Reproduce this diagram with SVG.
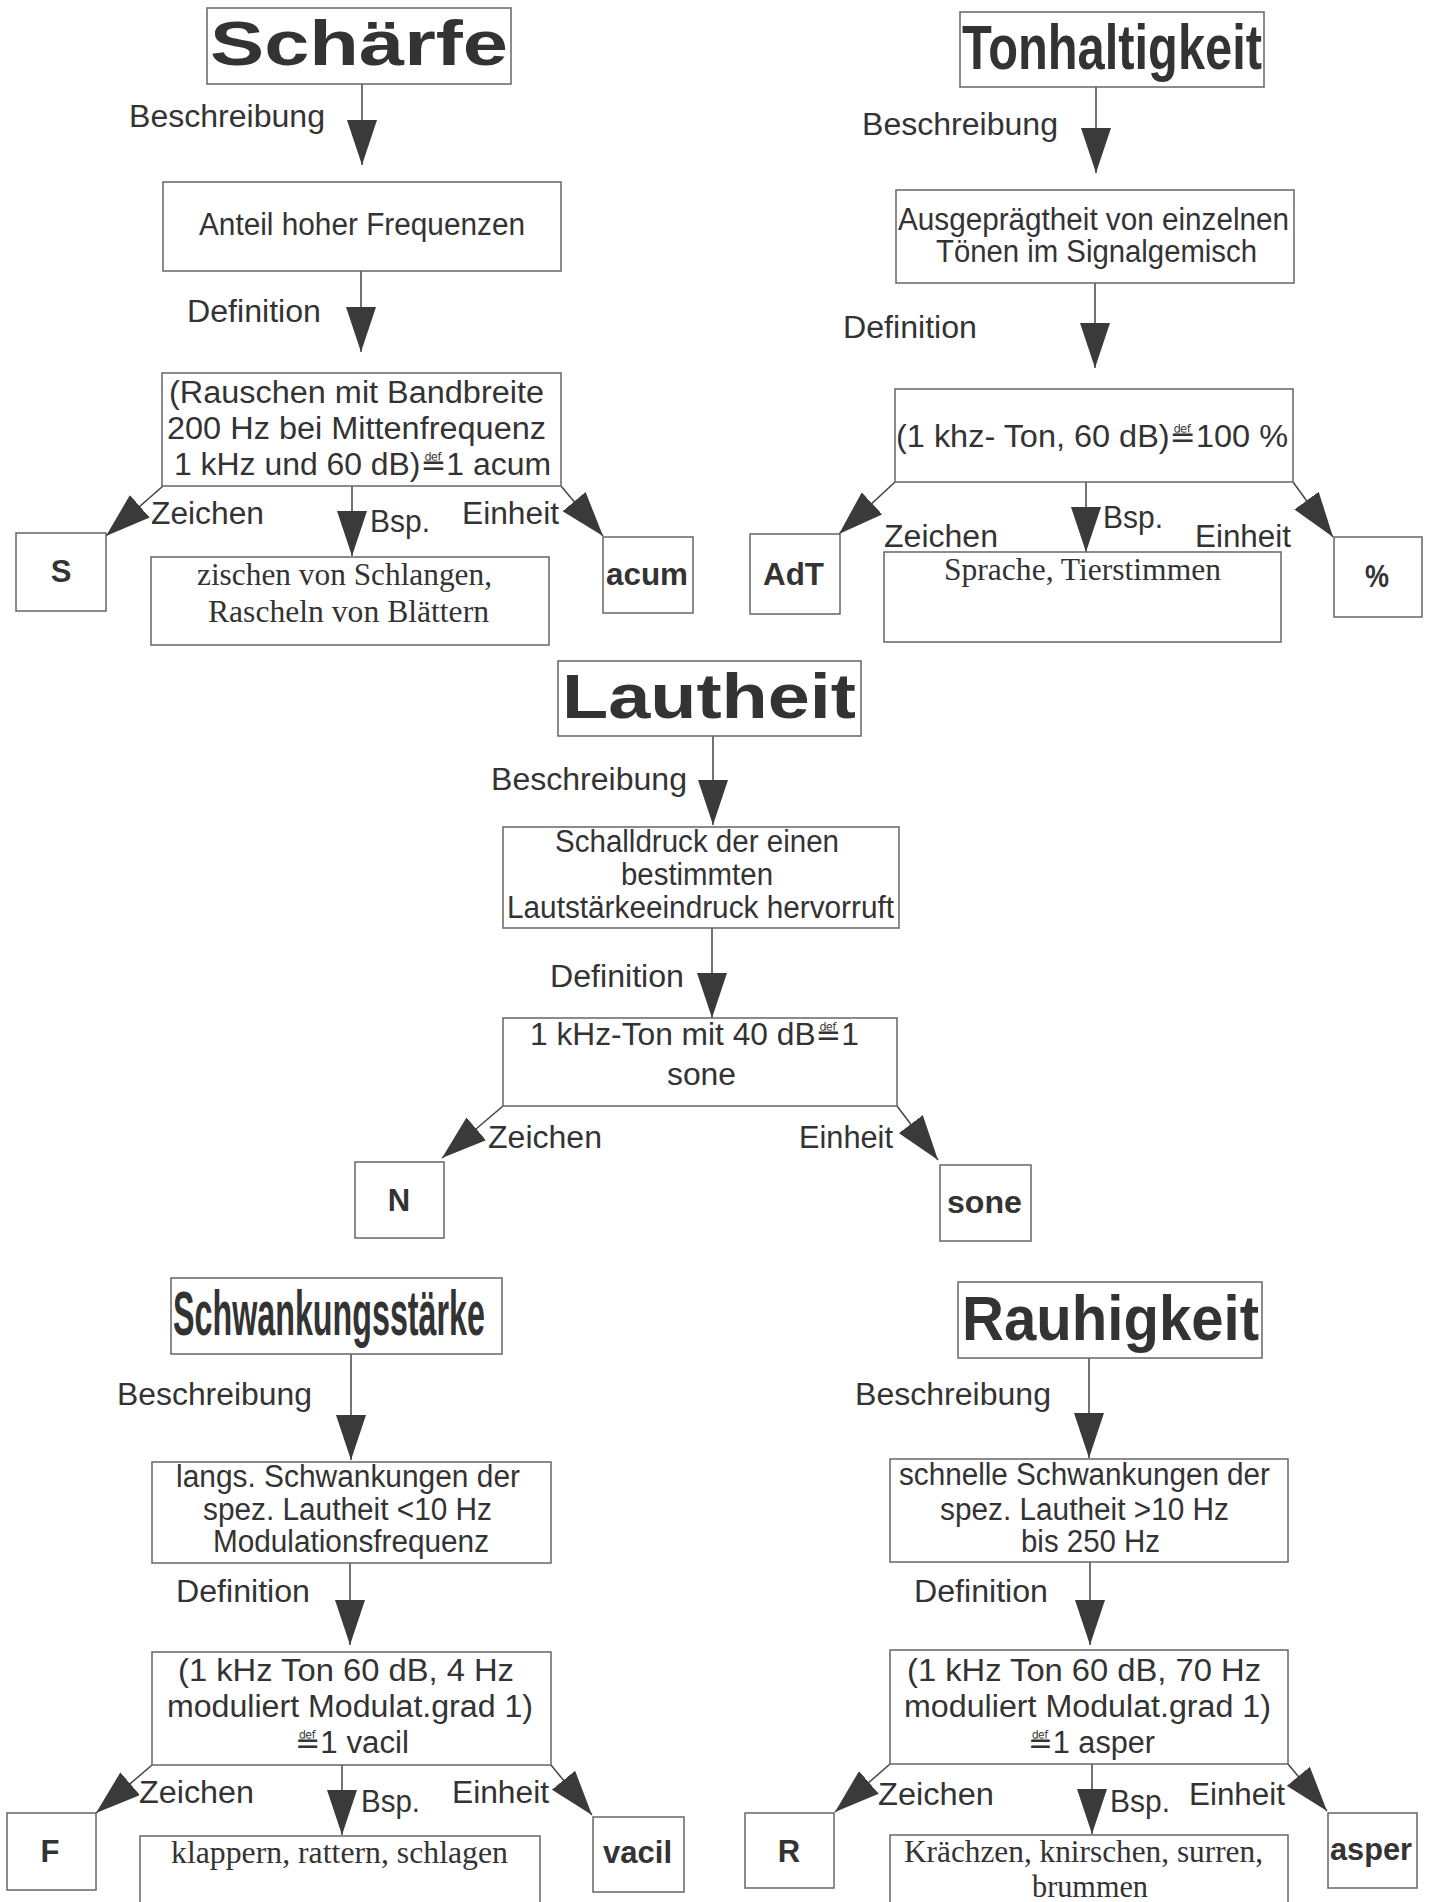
<svg xmlns="http://www.w3.org/2000/svg" width="1434" height="1902" viewBox="0 0 1434 1902">
<defs>
<marker id="ah" markerUnits="userSpaceOnUse" viewBox="0 0 45 30" markerWidth="45" markerHeight="30" refX="45" refY="15" orient="auto"><path d="M0,0L45,15L0,30z" fill="#3a3a3a"/></marker>
<style>
rect{fill:#fff;stroke:#666;stroke-width:1.5}
text{font-family:"Liberation Sans",Arial,sans-serif;fill:#333}
.t{font-size:63px;font-weight:bold}
.l{font-size:31px}
.b{font-size:31px}
.s{font-family:"Liberation Serif","Times New Roman",serif;font-size:31px}
.u{font-size:31px;font-weight:bold}
.d{font-family:"DejaVu Sans",sans-serif;font-size:30px}
.c line{stroke:#444;stroke-width:1.5;marker-end:url(#ah)}
</style>
</defs>
<rect x="0" y="0" width="1434" height="1902" style="fill:#fff;stroke:none"/>

<g id="connectors" class="c">
<line x1="362" y1="84" x2="362" y2="165"/>
<line x1="361" y1="271" x2="361" y2="352"/>
<line x1="163" y1="486" x2="106" y2="536"/>
<line x1="352" y1="486" x2="352" y2="556"/>
<line x1="561" y1="486" x2="603" y2="536"/>

<line x1="1096" y1="87" x2="1096" y2="173"/>
<line x1="1095" y1="283" x2="1095" y2="368"/>
<line x1="895" y1="482" x2="839" y2="534"/>
<line x1="1086" y1="482" x2="1086" y2="552"/>
<line x1="1293" y1="482" x2="1333" y2="537"/>

<line x1="713" y1="736" x2="713" y2="825"/>
<line x1="712" y1="928" x2="712" y2="1018"/>
<line x1="503" y1="1106" x2="442" y2="1158"/>
<line x1="897" y1="1106" x2="938" y2="1160"/>

<line x1="351" y1="1354" x2="351" y2="1460"/>
<line x1="350" y1="1563" x2="350" y2="1645"/>
<line x1="152" y1="1765" x2="96" y2="1813"/>
<line x1="342" y1="1765" x2="342" y2="1835"/>
<line x1="551" y1="1765" x2="592" y2="1815"/>

<line x1="1089" y1="1358" x2="1089" y2="1458"/>
<line x1="1090" y1="1562" x2="1090" y2="1645"/>
<line x1="890" y1="1764" x2="835" y2="1812"/>
<line x1="1092" y1="1764" x2="1092" y2="1834"/>
<line x1="1288" y1="1764" x2="1327" y2="1811"/>
</g>

<g id="labels">
<text class="l" x="129" y="127" textLength="196" lengthAdjust="spacingAndGlyphs">Beschreibung</text>
<text class="l" x="187" y="322" textLength="134" lengthAdjust="spacingAndGlyphs">Definition</text>
<text class="l" x="151" y="524" textLength="113" lengthAdjust="spacingAndGlyphs">Zeichen</text>
<text class="l" x="370" y="532" textLength="60" lengthAdjust="spacingAndGlyphs">Bsp.</text>
<text class="l" x="462" y="524" textLength="97" lengthAdjust="spacingAndGlyphs">Einheit</text>

<text class="l" x="862" y="135" textLength="196" lengthAdjust="spacingAndGlyphs">Beschreibung</text>
<text class="l" x="843" y="338" textLength="134" lengthAdjust="spacingAndGlyphs">Definition</text>
<text class="l" x="884" y="547" textLength="114" lengthAdjust="spacingAndGlyphs">Zeichen</text>
<text class="l" x="1103" y="528" textLength="60" lengthAdjust="spacingAndGlyphs">Bsp.</text>
<text class="l" x="1195" y="547" textLength="96" lengthAdjust="spacingAndGlyphs">Einheit</text>

<text class="l" x="491" y="790" textLength="196" lengthAdjust="spacingAndGlyphs">Beschreibung</text>
<text class="l" x="550" y="987" textLength="134" lengthAdjust="spacingAndGlyphs">Definition</text>
<text class="l" x="488" y="1148" textLength="114" lengthAdjust="spacingAndGlyphs">Zeichen</text>
<text class="l" x="799" y="1148" textLength="94" lengthAdjust="spacingAndGlyphs">Einheit</text>

<text class="l" x="117" y="1405" textLength="195" lengthAdjust="spacingAndGlyphs">Beschreibung</text>
<text class="l" x="176" y="1602" textLength="134" lengthAdjust="spacingAndGlyphs">Definition</text>
<text class="l" x="139" y="1803" textLength="115" lengthAdjust="spacingAndGlyphs">Zeichen</text>
<text class="l" x="361" y="1812" textLength="59" lengthAdjust="spacingAndGlyphs">Bsp.</text>
<text class="l" x="452" y="1803" textLength="97" lengthAdjust="spacingAndGlyphs">Einheit</text>

<text class="l" x="855" y="1405" textLength="196" lengthAdjust="spacingAndGlyphs">Beschreibung</text>
<text class="l" x="914" y="1602" textLength="134" lengthAdjust="spacingAndGlyphs">Definition</text>
<text class="l" x="878" y="1805" textLength="116" lengthAdjust="spacingAndGlyphs">Zeichen</text>
<text class="l" x="1110" y="1812" textLength="60" lengthAdjust="spacingAndGlyphs">Bsp.</text>
<text class="l" x="1189" y="1805" textLength="96" lengthAdjust="spacingAndGlyphs">Einheit</text>
</g>

<!-- Schärfe -->
<g id="schaerfe-title"><rect x="207" y="8" width="304" height="76"/><text class="t" x="210" y="65" textLength="298" lengthAdjust="spacingAndGlyphs">Schärfe</text></g>
<g id="schaerfe-beschreibung"><rect x="163" y="182" width="398" height="89"/><text class="b" x="199" y="235" textLength="326" lengthAdjust="spacingAndGlyphs">Anteil hoher Frequenzen</text></g>
<g id="schaerfe-definition"><rect x="162" y="373" width="399" height="113"/>
<text class="b" x="169" y="403" textLength="375" lengthAdjust="spacingAndGlyphs">(Rauschen mit Bandbreite</text>
<text class="b" x="167" y="439" textLength="379" lengthAdjust="spacingAndGlyphs">200 Hz bei Mittenfrequenz</text>
<text class="b" x="174" y="475" textLength="377" lengthAdjust="spacingAndGlyphs">1 kHz und 60 dB)<tspan class="d">≝</tspan>1 acum</text></g>
<g id="schaerfe-zeichen"><rect x="16" y="533" width="90" height="78"/><text class="u" x="61" y="582" text-anchor="middle">S</text></g>
<g id="schaerfe-bsp"><rect x="151" y="557" width="398" height="88"/>
<text class="s" x="197" y="585" textLength="295" lengthAdjust="spacingAndGlyphs">zischen von Schlangen,</text>
<text class="s" x="208" y="622" textLength="281" lengthAdjust="spacingAndGlyphs">Rascheln von Blättern</text></g>
<g id="schaerfe-einheit"><rect x="603" y="537" width="90" height="76"/><text class="u" x="606" y="585" textLength="82" lengthAdjust="spacingAndGlyphs">acum</text></g>

<!-- Tonhaltigkeit -->
<g id="ton-title"><rect x="960" y="12" width="304" height="75"/><text class="t" x="962" y="69" textLength="300" lengthAdjust="spacingAndGlyphs">Tonhaltigkeit</text></g>
<g id="ton-beschreibung"><rect x="896" y="190" width="398" height="93"/>
<text class="b" x="898" y="230" textLength="391" lengthAdjust="spacingAndGlyphs">Ausgeprägtheit von einzelnen</text>
<text class="b" x="936" y="262" textLength="321" lengthAdjust="spacingAndGlyphs">Tönen im Signalgemisch</text></g>
<g id="ton-definition"><rect x="895" y="389" width="398" height="93"/>
<text class="b" x="896" y="447" textLength="392" lengthAdjust="spacingAndGlyphs">(1 khz- Ton, 60 dB)<tspan class="d">≝</tspan>100 %</text></g>
<g id="ton-zeichen"><rect x="750" y="534" width="90" height="80"/><text class="u" x="763" y="585" textLength="61" lengthAdjust="spacingAndGlyphs">AdT</text></g>
<g id="ton-bsp"><rect x="884" y="552" width="397" height="90"/><text class="s" x="944" y="580" textLength="277" lengthAdjust="spacingAndGlyphs">Sprache, Tierstimmen</text></g>
<g id="ton-einheit"><rect x="1334" y="537" width="88" height="80"/><text class="u" x="1365" y="587" textLength="24" lengthAdjust="spacingAndGlyphs">%</text></g>

<!-- Lautheit -->
<g id="laut-title"><rect x="558" y="661" width="303" height="75"/><text class="t" x="562" y="718" textLength="294" lengthAdjust="spacingAndGlyphs">Lautheit</text></g>
<g id="laut-beschreibung"><rect x="503" y="827" width="396" height="101"/>
<text class="b" x="555" y="852" textLength="284" lengthAdjust="spacingAndGlyphs">Schalldruck der einen</text>
<text class="b" x="621" y="885" textLength="152" lengthAdjust="spacingAndGlyphs">bestimmten</text>
<text class="b" x="507" y="918" textLength="387" lengthAdjust="spacingAndGlyphs">Lautstärkeeindruck hervorruft</text></g>
<g id="laut-definition"><rect x="503" y="1018" width="394" height="88"/>
<text class="b" x="530" y="1045" textLength="329" lengthAdjust="spacingAndGlyphs">1 kHz-Ton mit 40 dB<tspan class="d">≝</tspan>1</text>
<text class="b" x="667" y="1085" textLength="69" lengthAdjust="spacingAndGlyphs">sone</text></g>
<g id="laut-zeichen"><rect x="355" y="1162" width="89" height="76"/><text class="u" x="399" y="1211" text-anchor="middle">N</text></g>
<g id="laut-einheit"><rect x="940" y="1165" width="91" height="76"/><text class="u" x="947" y="1213" textLength="75" lengthAdjust="spacingAndGlyphs">sone</text></g>

<!-- Schwankungsstärke -->
<g id="schw-title"><rect x="171" y="1278" width="331" height="76"/><text class="t" x="173" y="1335" textLength="312" lengthAdjust="spacingAndGlyphs">Schwankungsstärke</text></g>
<g id="schw-beschreibung"><rect x="152" y="1462" width="399" height="101"/>
<text class="b" x="176" y="1487" textLength="344" lengthAdjust="spacingAndGlyphs">langs. Schwankungen der</text>
<text class="b" x="203" y="1520" textLength="289" lengthAdjust="spacingAndGlyphs">spez. Lautheit &lt;10 Hz</text>
<text class="b" x="213" y="1552" textLength="276" lengthAdjust="spacingAndGlyphs">Modulationsfrequenz</text></g>
<g id="schw-definition"><rect x="152" y="1652" width="399" height="113"/>
<text class="b" x="178" y="1681" textLength="336" lengthAdjust="spacingAndGlyphs">(1 kHz Ton 60 dB, 4 Hz</text>
<text class="b" x="167" y="1717" textLength="366" lengthAdjust="spacingAndGlyphs">moduliert Modulat.grad 1)</text>
<text class="b" x="295" y="1753" textLength="114" lengthAdjust="spacingAndGlyphs"><tspan class="d">≝</tspan>1 vacil</text></g>
<g id="schw-zeichen"><rect x="7" y="1813" width="89" height="77"/><text class="u" x="50" y="1862" text-anchor="middle">F</text></g>
<g id="schw-bsp"><rect x="140" y="1836" width="400" height="80"/><text class="s" x="171" y="1863" textLength="337" lengthAdjust="spacingAndGlyphs">klappern, rattern, schlagen</text></g>
<g id="schw-einheit"><rect x="593" y="1817" width="91" height="75"/><text class="u" x="603" y="1863" textLength="69" lengthAdjust="spacingAndGlyphs">vacil</text></g>

<!-- Rauhigkeit -->
<g id="rau-title"><rect x="958" y="1282" width="304" height="76"/><text class="t" x="962" y="1340" textLength="297" lengthAdjust="spacingAndGlyphs">Rauhigkeit</text></g>
<g id="rau-beschreibung"><rect x="890" y="1459" width="398" height="103"/>
<text class="b" x="899" y="1485" textLength="371" lengthAdjust="spacingAndGlyphs">schnelle Schwankungen der</text>
<text class="b" x="940" y="1520" textLength="289" lengthAdjust="spacingAndGlyphs">spez. Lautheit &gt;10 Hz</text>
<text class="b" x="1021" y="1552" textLength="139" lengthAdjust="spacingAndGlyphs">bis 250 Hz</text></g>
<g id="rau-definition"><rect x="890" y="1650" width="398" height="114"/>
<text class="b" x="907" y="1681" textLength="354" lengthAdjust="spacingAndGlyphs">(1 kHz Ton 60 dB, 70 Hz</text>
<text class="b" x="904" y="1717" textLength="367" lengthAdjust="spacingAndGlyphs">moduliert Modulat.grad 1)</text>
<text class="b" x="1028" y="1753" textLength="127" lengthAdjust="spacingAndGlyphs"><tspan class="d">≝</tspan>1 asper</text></g>
<g id="rau-zeichen"><rect x="745" y="1813" width="89" height="75"/><text class="u" x="789" y="1862" text-anchor="middle">R</text></g>
<g id="rau-bsp"><rect x="890" y="1835" width="398" height="80"/>
<text class="s" x="904" y="1862" textLength="359" lengthAdjust="spacingAndGlyphs">Krächzen, knirschen, surren,</text>
<text class="s" x="1032" y="1897" textLength="116" lengthAdjust="spacingAndGlyphs">brummen</text></g>
<g id="rau-einheit"><rect x="1328" y="1813" width="89" height="75"/><text class="u" x="1330" y="1860" textLength="82" lengthAdjust="spacingAndGlyphs">asper</text></g>
</svg>
